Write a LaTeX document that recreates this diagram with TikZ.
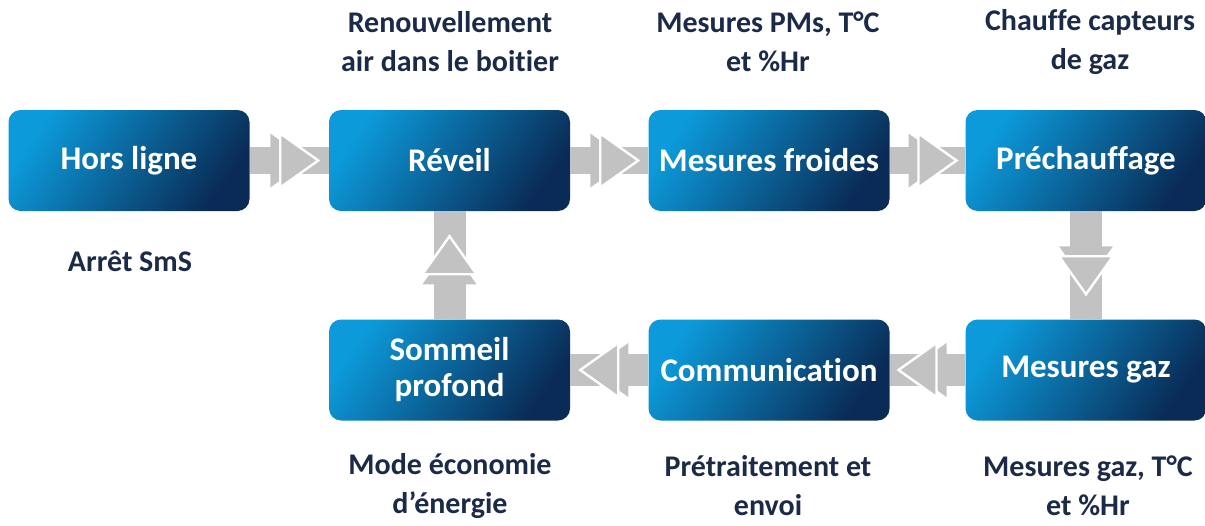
\documentclass[tikz,border=0pt]{standalone}
\usepackage{fontspec}
\setmainfont[RawFeature=-liga]{Carlito}
\usetikzlibrary{decorations.markings}
\definecolor{boxlight}{HTML}{0C9ADA}
\definecolor{boxmid}{HTML}{0A76BA}
\definecolor{boxdark}{HTML}{0A2B55}
\definecolor{arrgray}{HTML}{C2C2C2}
\definecolor{labnavy}{HTML}{1B2A47}
\tikzset{
  stepbox/.style={rounded corners=12pt, minimum width=241pt, minimum height=101pt,
    inner sep=0pt, shading=axis, top color=boxlight, middle color=boxmid, bottom color=boxdark,
    shading angle=55, text=white, font=\fontsize{33}{36}\selectfont\bfseries, align=center},
  lab/.style={text=labnavy, font=\fontsize{30}{39}\selectfont\bfseries, align=center},
  flow/.style={draw=arrgray, line width=#1, postaction={decorate},
    decoration={markings, mark=at position 0.5 with {
      \fill[arrgray] (-19,-27) -- (19,0) -- (-19,27) -- cycle;
      \filldraw[fill=arrgray, draw=white, line width=2.4pt, line join=miter]
        (-9,-27) -- (29,0) -- (-9,27) -- cycle;}}},
}
\begin{document}
\begin{tikzpicture}[x=1pt,y=-1pt]
\useasboundingbox (0,0) rectangle (1205,525);
% boxes
\node[stepbox] (hors) at (129,160.5) {Hors ligne};
\node[stepbox] (rev) at (449.5,160.5) {Réveil};
\node[stepbox] (mfr) at (769,160.5) {Mesures froides};
\node[stepbox] (pre) at (1086,160.5) {Préchauffage};
\node[stepbox] (som) at (449.5,370) {Sommeil\\profond};
\node[stepbox] (com) at (769,370) {Communication};
\node[stepbox] (mga) at (1086,370) {Mesures gaz};
% connectors
\draw[flow=27pt] (hors.east) -- (rev.west);
\draw[flow=27pt] (rev.east) -- (mfr.west);
\draw[flow=27pt] (mfr.east) -- (pre.west);
\draw[flow=32pt] (pre.south) -- (mga.north);
\draw[flow=32pt] (mga.west) -- (com.east);
\draw[flow=32pt] (com.west) -- (som.east);
\draw[flow=32pt] (som.north) -- (rev.south);
% labels
\node[lab] (l1) at (450,42) {Renouvellement\\air dans le boitier};
\node[lab] (l2) at (768,42) {Mesures PMs, T°C\\et \%Hr};
\node[lab] (l3) at (1090,42) {Chauffe capteurs\\de gaz};
\node[lab] (l4) at (130,261) {Arrêt SmS};
\node[lab] (l5) at (450,486) {Mode économie\\d’énergie};
\node[lab] (l6) at (768,486) {Prétraitement et\\envoi};
\node[lab] (l7) at (1088,486) {Mesures gaz, T°C\\et \%Hr};
\end{tikzpicture}
\end{document}
